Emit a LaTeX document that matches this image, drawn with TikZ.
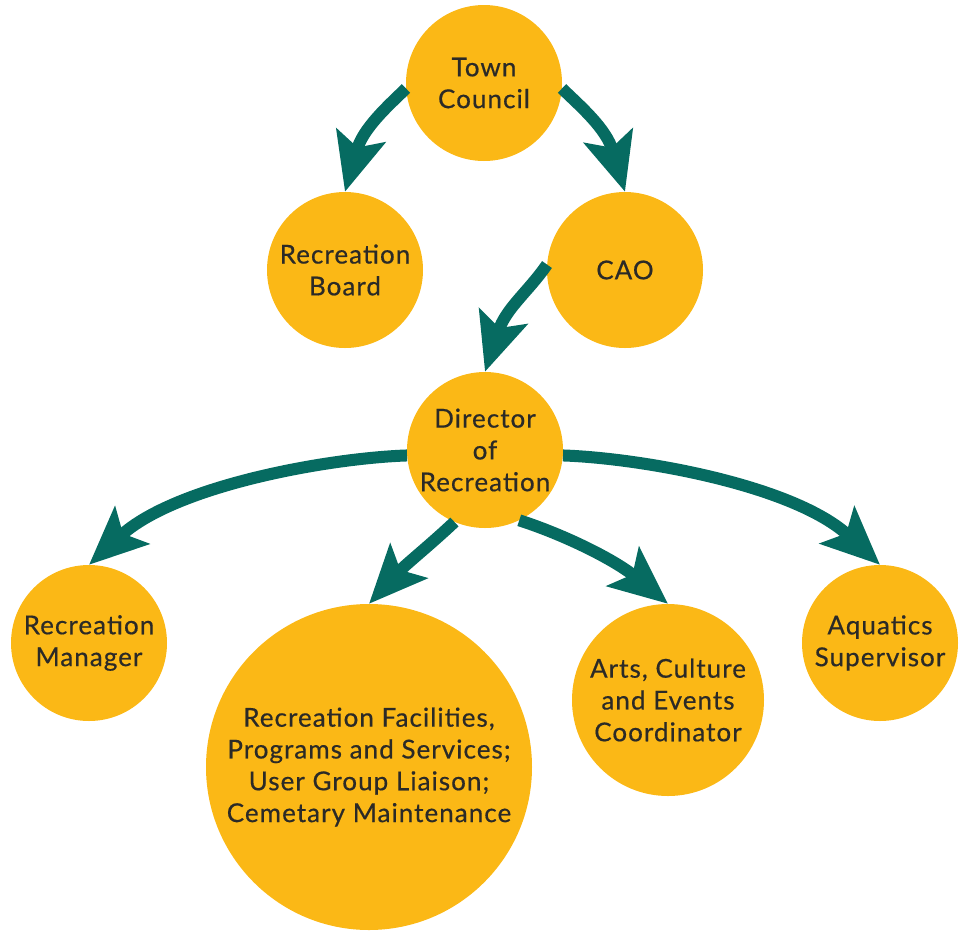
\documentclass[tikz,border=0pt]{standalone}
\usepackage{fontspec}
\setmainfont{Lato}[LetterSpace=4,FakeBold=0.5]
\usetikzlibrary{arrows.meta}
\definecolor{disc}{HTML}{FBB816}
\definecolor{link}{HTML}{066B61}
\definecolor{ink}{HTML}{2B2A27}
\begin{document}
\begin{tikzpicture}[x=1pt,y=-1pt,
  role/.style={circle,fill=disc,draw=none,inner sep=0pt,minimum size=#1,
    text=ink,align=center,font=\fontsize{26}{31.8}\selectfont},
  role/.default=156pt,
  flow/.style={draw=link,line width=12pt,
    -{Stealth[length=58pt,width=50pt,inset=12pt]}}]
\useasboundingbox (0,0) rectangle (964,930);

% positions
\node[role] (tc) at (484,83) {Town\\Council};
\node[role] (rb) at (345,270) {Recreation\\Board};
\node[role] (cao) at (625,270) {CAO};
\node[role] (dr) at (485,450) {Director\\of\\Recreation};
\node[role] (rm) at (89,643) {Recreation\\Manager};
\node[role=326pt] (fac) at (369,767) {Recreation Facilities,\\Programs and Services;\\User Group Liaison;\\Cemetary Maintenance};
\node[role=192pt] (ace) at (668,700) {Arts, Culture\\and Events\\Coordinator};
\node[role] (aq) at (880,643) {Aquatics\\Supervisor};

% reporting lines
\draw[flow] (tc.184) .. controls (388,106) and (363,128) .. (rb.north);
\draw[flow] (tc.-4) .. controls (580,106) and (606,128) .. (cao.north);
\draw[flow] (cao.176) .. controls (528,292) and (506,308) .. (dr.north);
\draw[flow] (dr.184) .. controls (330,458) and (176,485) .. (rm.north);
\draw[flow] (dr.-4) .. controls (640,458) and (794,485) .. (aq.north);
\draw[flow] (dr.247) .. controls (430,545) and (405,565) .. (fac.north);
\draw[flow] (dr.296) .. controls (565,535) and (615,560) .. (ace.north);
\end{tikzpicture}
\end{document}
